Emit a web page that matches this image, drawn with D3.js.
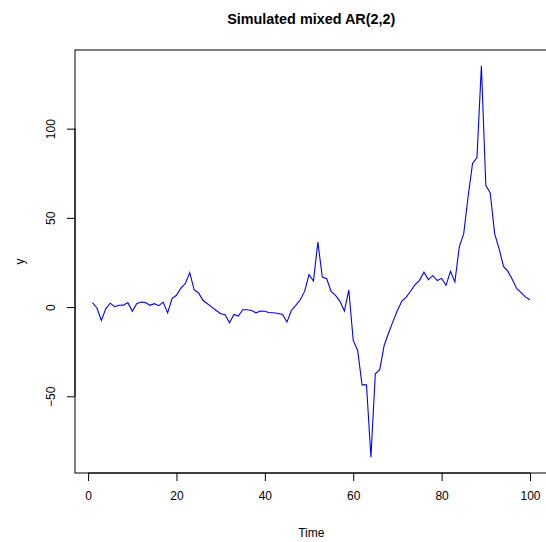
<!DOCTYPE html>
<html>
<head>
<meta charset="utf-8">
<script src="https://cdn.jsdelivr.net/npm/d3@7"></script>
<style>
    body { margin: 0; background: #fff; }
    text { font-family: "Liberation Sans", Arial, Helvetica, sans-serif; fill: #000; }
</style>
</head>
<body>
<div id="plot"></div>
<script>
// значения ряда (t = 1..100)
var series = [
    2.5, -0.5, -7.5, -1, 2.2, 0.2, 1, 1.1, 2.5, -2.4,
    1.9, 2.8, 2.5, 1.0, 1.9, 0.8, 2.8, -3.3, 4.8, 6.6,
    10.6, 13.1, 19.3, 9.8, 7.9, 3.8, 1.9, 0, -1.9, -3.7,
    -4.3, -8.8, -4.1, -5, -1.5, -1.5, -1.9, -3.2, -2.2, -2.3,
    -3.2, -3.2, -3.6, -4.1, -8.4, -1.9, 1.0, 4.1, 8.8, 18.2,
    14.6, 36.5, 16.8, 15.9, 8.8, 6.6, 3.2, -2.2, 9.6, -18.7,
    -24.3, -43.6, -43.6, -84.2, -37.4, -35.1, -21.5, -14.5, -8.0, -1.9,
    3.4, 5.6, 9, 12.6, 15, 19.6, 15.4, 17.6, 14.9, 16.1,
    12.2, 20, 14.1, 33.8, 41.2, 62, 80.5, 83.8, 135.3, 68.3,
    64, 41.2, 32.8, 22.8, 20, 15.4, 10.3, 8.1, 5.6, 4.1
];
var time = d3.range(1, series.length + 1);
var xTicks = [0, 20, 40, 60, 80, 100];
var yTicks = [-50, 0, 50, 100];

var width = 546,
    height = 542,
    plotLeft = 75,
    plotRight = 547.5,
    plotTop = 50,
    plotBottom = 473;

// как в R: диапазон расширяется на 4% с каждой стороны
function padded(extent) {
    var d = (extent[1] - extent[0]) * 0.04;
    return [extent[0] - d, extent[1] + d];
}

var x = d3.scaleLinear().domain(padded(d3.extent(time))).range([plotLeft, plotRight]);
var y = d3.scaleLinear().domain(padded(d3.extent(series))).range([plotBottom, plotTop]);

var svg = d3.select("#plot")
    .append("svg")
    .attr("width", width)
    .attr("height", height);

// рамка вокруг области графика
svg.append("rect")
    .attr("x", plotLeft)
    .attr("y", plotTop)
    .attr("width", plotRight - plotLeft)
    .attr("height", plotBottom - plotTop)
    .attr("fill", "none")
    .attr("stroke", "#000")
    .attr("stroke-width", 1);

// линия ряда
var line = d3.line()
    .x(function (d, i) { return x(time[i]); })
    .y(function (d) { return y(d); });

svg.append("path")
    .datum(series)
    .attr("d", line)
    .attr("fill", "none")
    .attr("stroke", "#0000ff")
    .attr("stroke-width", 1.1);

// ось X
var gx = svg.append("g")
    .attr("transform", "translate(0," + plotBottom + ")")
    .call(d3.axisBottom(x).tickValues(xTicks).tickSize(8).tickPadding(19).tickFormat(d3.format("d")));
gx.select(".domain").remove();
gx.selectAll("text").attr("font-size", "12px").attr("dy", "0");
gx.append("line")
    .attr("x1", x(xTicks[0]))
    .attr("x2", x(xTicks[xTicks.length - 1]))
    .attr("stroke", "#000");

// ось Y, подписи повернуты как в R
var gy = svg.append("g")
    .attr("transform", "translate(" + plotLeft + ",0)")
    .call(d3.axisLeft(y).tickValues(yTicks).tickSize(8).tickFormat(function (d) {
        return d < 0 ? "\u2212" + Math.abs(d) : String(d);
    }));
gy.select(".domain").remove();
gy.selectAll(".tick text")
    .attr("font-size", "12px")
    .attr("x", null)
    .attr("dy", null)
    .attr("text-anchor", "middle")
    .attr("transform", "translate(-20,0) rotate(-90)");
gy.append("line")
    .attr("y1", y(yTicks[0]))
    .attr("y2", y(yTicks[yTicks.length - 1]))
    .attr("stroke", "#000");

// заголовок и подписи осей
var midX = (plotLeft + plotRight) / 2,
    midY = (plotTop + plotBottom) / 2;

svg.append("text")
    .attr("x", midX)
    .attr("y", 24)
    .attr("text-anchor", "middle")
    .attr("font-size", "14.4px")
    .attr("font-weight", "bold")
    .text("Simulated mixed AR(2,2)");

svg.append("text")
    .attr("x", midX)
    .attr("y", 537)
    .attr("text-anchor", "middle")
    .attr("font-size", "12px")
    .text("Time");

svg.append("text")
    .attr("transform", "translate(24," + midY + ") rotate(-90)")
    .attr("text-anchor", "middle")
    .attr("font-size", "12px")
    .text("y");
</script>
</body>
</html>
